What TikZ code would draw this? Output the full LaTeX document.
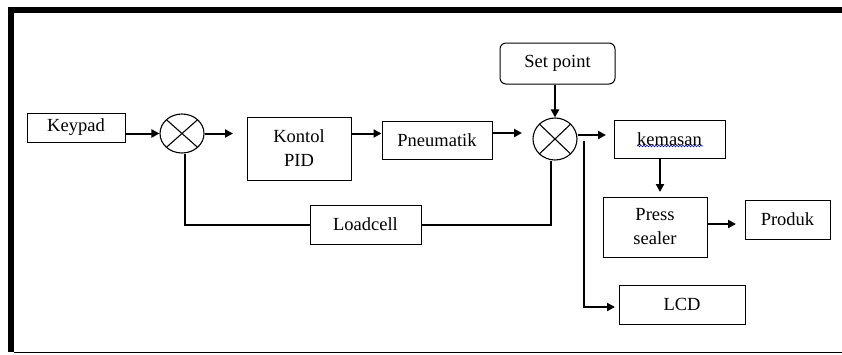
\documentclass[tikz,border=0pt]{standalone}
\usepackage{fontspec}
\setmainfont{Liberation Serif}
\usetikzlibrary{arrows.meta,shapes.geometric,decorations.pathmorphing}
\tikzset{
  blk/.style={draw, line width=1pt, inner sep=0pt, align=center,
    font=\fontsize{18.5}{24}\selectfont},
  sumj/.style={ellipse, draw, line width=1.1pt, inner sep=0pt,
    path picture={\draw[line width=1.1pt]
      (path picture bounding box.north west) -- (path picture bounding box.south east)
      (path picture bounding box.north east) -- (path picture bounding box.south west);}},
  conn/.style={line width=2pt},
  arr/.style={conn, -{Triangle[length=8pt,width=8pt]}},
}
\begin{document}
\begin{tikzpicture}[x=1pt,y=-1pt]
\useasboundingbox (0,0) rectangle (842,354);
% frame
\fill (8,7) rectangle (842,13);
\fill (8,7) rectangle (14,352);
\draw[line width=1.3pt] (14,352.5) -- (842,352.5);
% nodes
\node[blk, minimum width=98pt, minimum height=29pt] (kp) at (76,127.5) {Keypad};
\node[sumj, minimum width=44pt, minimum height=39pt] (s1) at (182,133.5) {};
\node[blk, minimum width=104pt, minimum height=63pt] (pid) at (299,148.5) {Kontol\\PID};
\node[blk, minimum width=110pt, minimum height=38pt] (pn) at (437,140) {Pneumatik};
\node[blk, rounded corners=6pt, minimum width=115pt, minimum height=41pt] (sp) at (557.5,63.5) {Set point};
\node[sumj, minimum width=44pt, minimum height=42pt] (s2) at (555,139) {};
\node[blk, minimum width=111pt, minimum height=38pt] (km) at (669.5,139.5) {kemasan};
\node[blk, minimum width=104pt, minimum height=60pt] (ps) at (655,227) {Press\\sealer};
\node[blk, minimum width=85pt, minimum height=39pt] (pr) at (787.5,219.5) {Produk};
\node[blk, minimum width=111pt, minimum height=39pt] (lc) at (365.5,224.5) {Loadcell};
\node[blk, minimum width=126pt, minimum height=39pt] (lcd) at (682,304.5) {LCD};
% spell-check underline
\draw[blue!80!black, line width=0.6pt, decorate,
  decoration={snake, amplitude=0.8pt, segment length=3pt}] (637,146) -- (703,146);
% free ends
\coordinate (t1) at (233,133.5);
\coordinate (t2) at (522,133);
\coordinate (t3) at (606,135);
\coordinate (b1) at (584,141);
\coordinate (t4) at (615,307);
\coordinate (t5) at (660,192);
\coordinate (t6) at (736,224);
% connectors
\draw[arr] (kp.east |- s1.west) -- (s1.west);
\draw[arr] (s1.east) -- (t1);
\draw[arr] (pid.east |- s1.east) -- (pn.west |- s1.east);
\draw[arr] (pn.east |- t2) -- (t2);
\draw[arr] (s2.north |- sp.south) -- (s2.north);
\draw[arr] (s2.east |- t3) -- (t3);
\draw[arr] (b1) |- (t4);
\draw[arr] (km.south -| t5) -- (t5);
\draw[arr] (ps.east |- t6) -- (t6);
\draw[conn] ([xshift=3pt]s1.south) |- (lc.west);
\draw[conn] (lc.east) -| ([xshift=-4pt]s2.south);
\end{tikzpicture}
\end{document}
